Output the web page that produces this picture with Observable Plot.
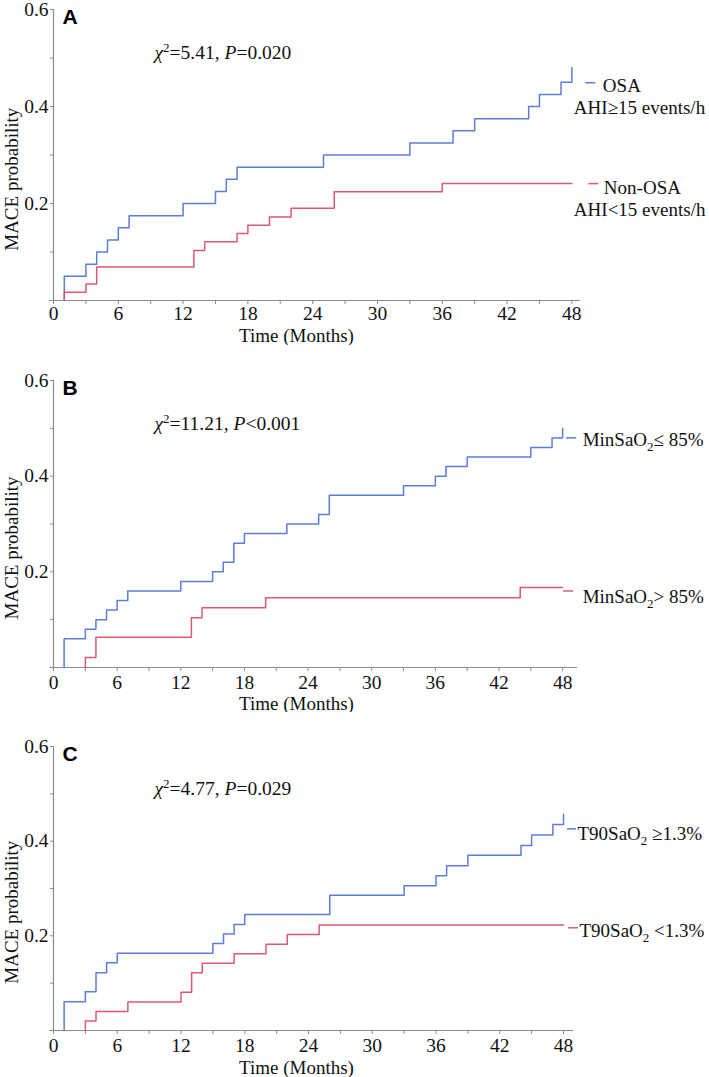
<!DOCTYPE html>
<html>
<head>
<meta charset="utf-8">
<script src="https://cdn.jsdelivr.net/npm/d3@7"></script>
<script src="https://cdn.jsdelivr.net/npm/@observablehq/plot@0.6"></script>
<style>
  html, body { margin: 0; padding: 0; background: #fff; }
  #chart { position: relative; width: 709px; height: 1077px; background: #fff; }
  #chart svg { position: absolute; left: 0; }
</style>
</head>
<body>
<div id="chart"></div>
<script>
// ---------- data ----------
const followUpEnd = 48;
const xTickMonths = [0, 3, 6, 9, 12, 15, 18, 21, 24, 27, 30, 33, 36, 39, 42, 45, 48];
const xLabelMonths = [0, 6, 12, 18, 24, 30, 36, 42, 48];
const yTickValues = [0.1, 0.2, 0.3, 0.4, 0.5, 0.6];
const yLabelValues = [0.2, 0.4, 0.6];

// Panel A: OSA (AHI >= 15) vs Non-OSA
const aOsaTime = [1, 3, 4, 5, 6, 7, 12, 15, 16, 17, 25, 33, 37, 39, 44, 45, 47, 48];
const aOsaProb = [0.05, 0.075, 0.10, 0.125, 0.15, 0.175, 0.20, 0.225, 0.25, 0.275, 0.30, 0.325, 0.35, 0.375, 0.40, 0.425, 0.45, 0.48];
const aNonTime = [1, 3, 4, 13, 14, 17, 18, 20, 22, 26, 36];
const aNonProb = [0.017, 0.034, 0.069, 0.103, 0.121, 0.138, 0.155, 0.172, 0.19, 0.224, 0.241];

// Panel B: MinSaO2 <= 85% vs > 85%
const bLowTime = [1, 3, 4, 5, 6, 7, 12, 15, 16, 17, 18, 22, 25, 26, 33, 36, 37, 39, 45, 47, 48];
const bLowProb = [0.06, 0.08, 0.10, 0.12, 0.14, 0.16, 0.18, 0.20, 0.22, 0.26, 0.28, 0.30, 0.32, 0.36, 0.38, 0.40, 0.42, 0.44, 0.46, 0.48, 0.50];
const bHighTime = [3, 4, 13, 14, 20, 44];
const bHighProb = [0.021, 0.063, 0.104, 0.125, 0.146, 0.167];

// Panel C: T90SaO2 >= 1.3% vs < 1.3%
const cHighTime = [1, 3, 4, 5, 6, 15, 16, 17, 18, 26, 33, 36, 37, 39, 44, 45, 47, 48];
const cHighProb = [0.061, 0.082, 0.122, 0.143, 0.163, 0.184, 0.204, 0.224, 0.245, 0.286, 0.306, 0.327, 0.348, 0.370, 0.391, 0.413, 0.435, 0.457];
const cLowTime = [3, 4, 7, 12, 13, 14, 17, 20, 22, 25];
const cLowProb = [0.02, 0.04, 0.06, 0.081, 0.122, 0.142, 0.162, 0.182, 0.203, 0.223];

const panelLetters = ["A", "B", "C"];
const chiLabels = ["*χ*^2=5.41, *P*=0.020", "*χ*^2=11.21, *P*<0.001", "*χ*^2=4.77, *P*=0.029"];
const xTitle = "Time (Months)";
const yTitle = "MACE probability";

// legend rows: label lines and key level (probability)
const aLegend = [
  {key: 0.449, lines: [{text: "OSA", y: 0.443, off: 31}, {text: "AHI≥15 events/h", y: 0.398, off: 2}], k1: 14, k2: 24},
  {key: 0.241, lines: [{text: "Non-OSA", y: 0.233, off: 32}, {text: "AHI<15 events/h", y: 0.186, off: 2}], k1: 17, k2: 27}
];
const bLegend = [
  {key: 0.48, lines: [{text: "MinSaO_2≤ 85%", y: 0.475, off: 20}], k1: 4, k2: 14},
  {key: 0.16, lines: [{text: "MinSaO_2> 85%", y: 0.148, off: 20}], k1: 1, k2: 11}
];
const cLegend = [
  {key: 0.426, lines: [{text: "T90SaO_2 ≥1.3%", y: 0.416, off: 14}], k1: 4, k2: 13},
  {key: 0.217, lines: [{text: "T90SaO_2 <1.3%", y: 0.211, off: 16}], k1: 5, k2: 15}
];

// ---------- style ----------
const BLUE = "#5b7fd9";
const RED = "#da5a72";
const AXIS = "#8a8a8a";
const SERIF = "'Liberation Serif', 'Times New Roman', Times, serif";
const SANS = "'Liberation Sans', Arial, Helvetica, sans-serif";

function kmPoints(times, probs, color) {
  const pts = [{t: times[0], v: 0, color}];
  times.forEach((t, i) => pts.push({t, v: probs[i], color}));
  if (followUpEnd > times[times.length - 1]) pts.push({t: followUpEnd, v: probs[probs.length - 1], color});
  return pts;
}

function richText(svg) {
  svg.querySelectorAll("text").forEach(el => {
    const s = el.textContent;
    if (el.children.length || !/[*_^]/.test(s)) return;
    el.textContent = "";
    let shift = 0;
    for (const m of s.matchAll(/\*([^*]+)\*|_(\d)|\^(\d)|([^*_^]+)/g)) {
      const ts = document.createElementNS("http://www.w3.org/2000/svg", "tspan");
      let target = 0;
      if (m[1]) { ts.textContent = m[1]; ts.setAttribute("font-style", "italic"); }
      else if (m[2]) { ts.textContent = m[2]; target = 5; ts.setAttribute("font-size", "13"); }
      else if (m[3]) { ts.textContent = m[3]; target = -7; ts.setAttribute("font-size", "13"); }
      else ts.textContent = m[4];
      if (target !== shift) { ts.setAttribute("dy", target - shift); shift = target; }
      el.appendChild(ts);
    }
  });
}

const panels = [
  {top: 0, height: 345, mt: 9, mb: 45, axisEnd: 580, xMax: 48.8, tickDy: 13, titleDy: 35,
   series: [kmPoints(aOsaTime, aOsaProb, BLUE), kmPoints(aNonTime, aNonProb, RED)], legend: aLegend, colors: [BLUE, RED]},
  {top: 345, height: 367, mt: 35, mb: 45, axisEnd: 577, xMax: 49.4, tickDy: 15, titleDy: 36,
   series: [kmPoints(bLowTime, bLowProb, BLUE), kmPoints(bHighTime, bHighProb, RED)], legend: bLegend, colors: [BLUE, RED]},
  {top: 712, height: 365, mt: 34, mb: 47, axisEnd: 573, xMax: 48.94, tickDy: 15, titleDy: 37,
   series: [kmPoints(cHighTime, cHighProb, BLUE), kmPoints(cLowTime, cLowProb, RED)], legend: cLegend, colors: [BLUE, RED]}
];

const W = 709, ML = 53;
const container = document.getElementById("chart");

panels.forEach((p, idx) => {
  const MR = W - p.axisEnd;
  const ppm = (W - ML - MR) / p.xMax; // pixels per month
  const frameCenter = (ML + p.axisEnd) / 2;
  const points = p.series.flat();
  const keys = p.legend.map((l, i) => ({y: l.key, x1: followUpEnd + l.k1 / ppm, x2: followUpEnd + l.k2 / ppm, color: p.colors[i]}));
  const lines = p.legend.flatMap(l => l.lines.map(d => ({...d})));

  const svg = Plot.plot({
    width: W,
    height: p.height,
    marginLeft: ML,
    marginRight: MR,
    marginTop: p.mt,
    marginBottom: p.mb,
    style: {fontFamily: SERIF, fontSize: "18px", color: "#111", background: "white", overflow: "visible"},
    x: {domain: [0, p.xMax], axis: null},
    y: {domain: [0, 0.6], axis: null},
    marks: [
      Plot.axisX({ticks: xTickMonths, tickSize: 4, stroke: AXIS, tickFormat: () => "", label: null}),
      Plot.axisY({ticks: yTickValues, tickSize: 3, stroke: AXIS, tickFormat: () => "", label: null}),
      Plot.text(xLabelMonths, {x: d => d, text: d => String(d), frameAnchor: "bottom", dy: p.tickDy, lineAnchor: "middle",
        textAnchor: "middle", fontFamily: SERIF, fontSize: 19.5, fill: "#111"}),
      Plot.text(yLabelValues, {y: d => d, text: d => d.toFixed(1), frameAnchor: "left", dx: -5, lineAnchor: "middle",
        textAnchor: "end", fontFamily: SERIF, fontSize: 19.5, fill: "#111"}),
      Plot.ruleY([0], {x1: -0.35, x2: p.xMax, stroke: AXIS, strokeWidth: 1.2}),
      Plot.ruleX([0], {y1: 0, y2: 0.6, stroke: AXIS, strokeWidth: 1.2}),
      Plot.line(points, {x: "t", y: "v", z: "color", stroke: "color", curve: "step-after", strokeWidth: 1.5}),
      Plot.ruleY(keys, {y: "y", x1: "x1", x2: "x2", stroke: "color", strokeWidth: 1.5}),
      Plot.text(lines, {x: () => followUpEnd, y: "y", text: "text", textAnchor: "start", fontFamily: SERIF, fontSize: 19, fill: "#111"}),
      Plot.text([chiLabels[idx]], {text: d => d, frameAnchor: "left", y: () => 0.51, dx: 101, textAnchor: "start", fontFamily: SERIF, fontSize: 19.5, fill: "#111"}),
      Plot.text([panelLetters[idx]], {text: d => d, frameAnchor: "top-left", dx: 9, lineAnchor: "top", textAnchor: "start",
        fontFamily: SANS, fontWeight: "bold", fontSize: 21, fill: "#000"}),
      Plot.text([xTitle], {text: d => d, frameAnchor: "bottom", dx: 296 - frameCenter, dy: p.titleDy, lineAnchor: "middle", textAnchor: "middle", fontFamily: SERIF, fontSize: 19, fill: "#111"}),
      Plot.text([yTitle], {text: d => d, frameAnchor: "left", y: () => 0.25, dx: -42, rotate: -90, textAnchor: "middle", lineAnchor: "middle", fontFamily: SERIF, fontSize: 19, fill: "#111"})
    ]
  });
  // horizontal offsets for legend labels (pixel offsets from the end of follow-up)
  svg.querySelectorAll("text").forEach(t => {
    const match = lines.find(l => l.text === t.textContent);
    if (match) {
      const x = parseFloat(t.getAttribute("x") || "0");
      t.setAttribute("x", x + match.off);
    }
  });
  richText(svg);
  svg.style.top = p.top + "px";
  container.appendChild(svg);
});
</script>
</body>
</html>
